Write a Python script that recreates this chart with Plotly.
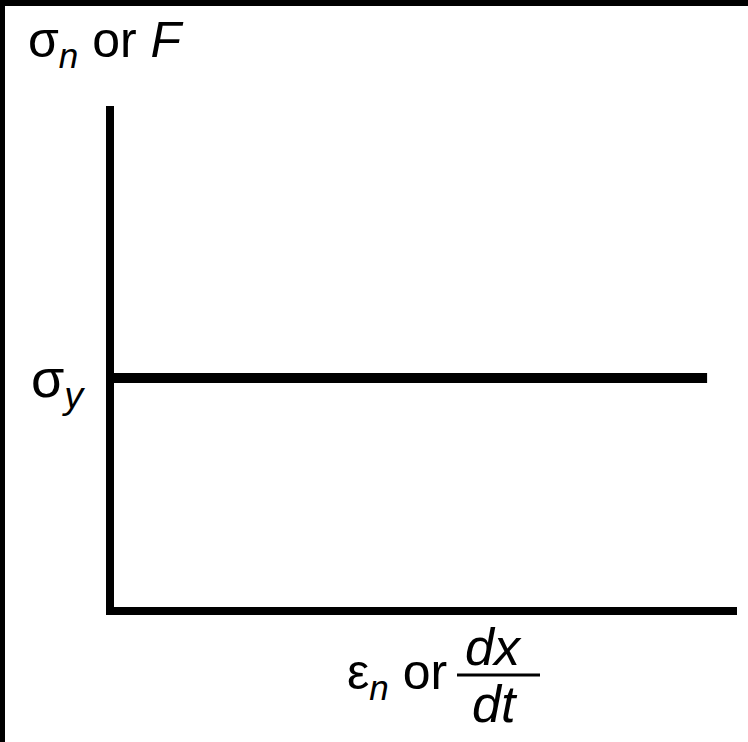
import plotly.graph_objects as go

# Data: yield stress plateau (perfectly plastic behaviour)
strain = [0.0, 9.52]
stress = [4.57, 4.57]
yield_tick = [4.57]
yield_label = ["σ<sub><i>y</i></sub>"]

W, H = 748, 742
L, R, T, B = 114, 11, 106, 135
PW, PH = W - L - R, H - T - B

def px(x):
    return (x - L) / PW

def py(y):
    return (H - B - y) / PH

FONT = "Liberation Sans, Arial, sans-serif"

fig = go.Figure()
fig.add_trace(go.Scatter(x=strain, y=stress, mode="lines",
                         line=dict(color="black", width=10),
                         hoverinfo="skip", showlegend=False))

fig.update_layout(
    width=W, height=H,
    margin=dict(l=L, r=R, t=T, b=B, pad=0),
    paper_bgcolor="white", plot_bgcolor="white",
    xaxis=dict(range=[0, 10], showline=True, linewidth=8, linecolor="black",
               showgrid=False, zeroline=False, showticklabels=False, ticks=""),
    yaxis=dict(range=[0, 10], showline=True, linewidth=8, linecolor="black",
               showgrid=False, zeroline=False, ticks="",
               tickvals=yield_tick, ticktext=yield_label,
               tickfont=dict(family=FONT, size=54, color="black"),
               ticklabelstandoff=12),
    font=dict(family=FONT, color="black"),
)

ann = []
ann.append(dict(text="σ<sub><i>n</i></sub> or <i>F</i>", x=px(26), y=py(10),
                xanchor="left", yanchor="top", font=dict(size=50)))
ann.append(dict(text="ε<sub><i>n</i></sub> or", x=px(449), y=py(675),
                xanchor="right", yanchor="middle", font=dict(size=50)))
ann.append(dict(text="<i>dx</i>", x=px(493), y=py(647),
                xanchor="center", yanchor="middle", font=dict(size=52)))
ann.append(dict(text="<i>dt</i>", x=px(495), y=py(704),
                xanchor="center", yanchor="middle", font=dict(size=52)))
for a in ann:
    a.update(xref="paper", yref="paper", showarrow=False)
fig.update_layout(annotations=ann)

shapes = [
    dict(type="line", xref="paper", yref="paper", x0=px(457), x1=px(540),
         y0=py(675), y1=py(675), line=dict(color="black", width=3)),
    dict(type="rect", xref="paper", yref="paper", x0=px(0), x1=px(W),
         y0=py(0), y1=py(6), fillcolor="black", line=dict(width=0), layer="above"),
    dict(type="rect", xref="paper", yref="paper", x0=px(0), x1=px(5),
         y0=py(0), y1=py(H), fillcolor="black", line=dict(width=0), layer="above"),
]
fig.update_layout(shapes=shapes)

fig.write_html("out.html", config={"displayModeBar": False},
               post_script="document.body.style.margin='0';document.body.style.overflow='hidden';")
